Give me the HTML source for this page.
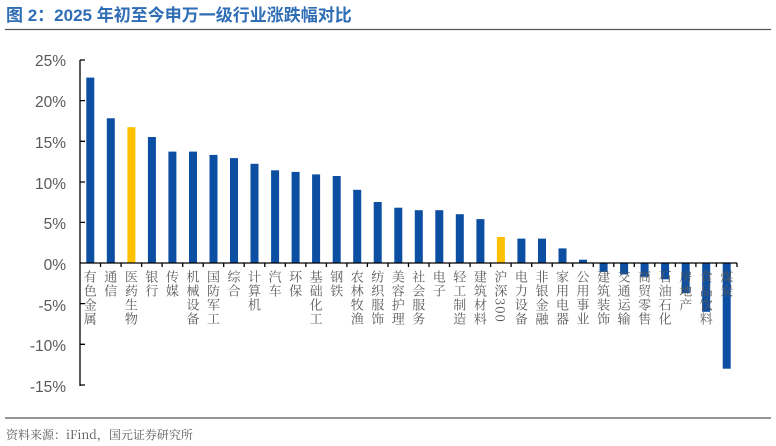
<!DOCTYPE html>
<html><head><meta charset="utf-8"><style>
body{margin:0;background:#fff;width:776px;height:446px;overflow:hidden}
svg{display:block}
.yl{font:15.5px "Liberation Sans",sans-serif;fill:#595959;text-anchor:end}
.xl{font-size:13px;font-family:"Noto Serif CJK SC","Liberation Serif",serif;fill:#595959;writing-mode:vertical-rl;letter-spacing:1px}
</style></head><body>
<svg width="776" height="446" viewBox="0 0 776 446">
<text x="6" y="21" style="font:bold 17px 'Liberation Sans','Noto Sans CJK SC',sans-serif;fill:#2f6db5">图 2：2025 年初至今申万一级行业涨跌幅对比</text>
<line x1="5" y1="29.5" x2="771" y2="29.5" stroke="#555" stroke-width="1.2"/>
<g class="yl">
<text x="66" y="66">25%</text><text x="66" y="107">20%</text><text x="66" y="148">15%</text><text x="66" y="189">10%</text><text x="66" y="229">5%</text><text x="66" y="270">0%</text><text x="66" y="311">-5%</text><text x="66" y="351">-10%</text><text x="66" y="392">-15%</text>
</g>
<g fill="#0b4ea2">
<rect x="86.3" y="77.6" width="8" height="185.4"/>
<rect x="106.8" y="118.3" width="8" height="144.7"/>
<rect x="127.4" y="127.2" width="8" height="135.8" fill="#ffc000"/>
<rect x="147.9" y="137" width="8" height="126"/>
<rect x="168.4" y="151.6" width="8" height="111.4"/>
<rect x="189" y="151.6" width="8" height="111.4"/>
<rect x="209.5" y="154.9" width="8" height="108.1"/>
<rect x="230" y="158.1" width="8" height="104.9"/>
<rect x="250.5" y="163.8" width="8" height="99.2"/>
<rect x="271.1" y="170.3" width="8" height="92.7"/>
<rect x="291.6" y="171.9" width="8" height="91.1"/>
<rect x="312.1" y="174.4" width="8" height="88.6"/>
<rect x="332.7" y="176" width="8" height="87"/>
<rect x="353.2" y="189.8" width="8" height="73.2"/>
<rect x="373.7" y="202" width="8" height="61"/>
<rect x="394.3" y="207.7" width="8" height="55.3"/>
<rect x="414.8" y="210.2" width="8" height="52.8"/>
<rect x="435.3" y="210.2" width="8" height="52.8"/>
<rect x="455.8" y="214.2" width="8" height="48.8"/>
<rect x="476.4" y="219.1" width="8" height="43.9"/>
<rect x="496.9" y="237" width="8" height="26" fill="#ffc000"/>
<rect x="517.4" y="238.6" width="8" height="24.4"/>
<rect x="538" y="238.6" width="8" height="24.4"/>
<rect x="558.5" y="248.4" width="8" height="14.6"/>
<rect x="579" y="259.7" width="8" height="3.3"/>
<rect x="599.6" y="263" width="8" height="8.9"/>
<rect x="620.1" y="263" width="8" height="11.4"/>
<rect x="640.6" y="263" width="8" height="13.8"/>
<rect x="661.1" y="263" width="8" height="16.3"/>
<rect x="681.7" y="263" width="8" height="30.1"/>
<rect x="702.2" y="263" width="8" height="48.8"/>
<rect x="722.7" y="263" width="8" height="105.7"/>
</g>
<g stroke="#000" stroke-width="1.3">
<line x1="80" y1="60" x2="80" y2="386"/>
<line x1="80" y1="263" x2="737" y2="263"/>
<path d="M80 60h5M80 100.6h5M80 141.3h5M80 182h5M80 222.4h5M80 303.6h5M80 344.3h5M80 385h5"/>
<path d="M100.5 263v4M121.1 263v4M141.6 263v4M162.1 263v4M182.7 263v4M203.2 263v4M223.7 263v4M244.2 263v4M264.8 263v4M285.3 263v4M305.8 263v4M326.4 263v4M346.9 263v4M367.4 263v4M388 263v4M408.5 263v4M429 263v4M449.5 263v4M470.1 263v4M490.6 263v4M511.1 263v4M531.7 263v4M552.2 263v4M572.7 263v4M593.3 263v4M613.8 263v4M634.3 263v4M654.8 263v4M675.4 263v4M695.9 263v4M716.4 263v4M737 263v4"/>
</g>
<g class="xl">
<text x="90.3" y="270">有色金属</text><text x="110.8" y="270">通信</text><text x="131.4" y="270">医药生物</text><text x="151.9" y="270">银行</text><text x="172.4" y="270">传媒</text><text x="193" y="270">机械设备</text><text x="213.5" y="270">国防军工</text><text x="234" y="270">综合</text><text x="254.5" y="270">计算机</text><text x="275.1" y="270">汽车</text><text x="295.6" y="270">环保</text><text x="316.1" y="270">基础化工</text><text x="336.7" y="270">钢铁</text><text x="357.2" y="270">农林牧渔</text><text x="377.7" y="270">纺织服饰</text><text x="398.3" y="270">美容护理</text><text x="418.8" y="270">社会服务</text><text x="439.3" y="270">电子</text><text x="459.8" y="270">轻工制造</text><text x="480.4" y="270">建筑材料</text><text x="500.9" y="270">沪深300</text><text x="521.4" y="270">电力设备</text><text x="542" y="270">非银金融</text><text x="562.5" y="270">家用电器</text><text x="583" y="270">公用事业</text><text x="603.6" y="270">建筑装饰</text><text x="624.1" y="270">交通运输</text><text x="644.6" y="270">商贸零售</text><text x="665.1" y="270">石油石化</text><text x="685.7" y="270">房地产</text><text x="706.2" y="270">食品饮料</text><text x="726.7" y="270">煤炭</text>
</g>
<line x1="5" y1="418" x2="771" y2="418" stroke="#555" stroke-width="1.2"/>
<text x="6" y="439" style="font-size:12px;font-family:'Noto Serif CJK SC','Liberation Sans',serif;fill:#595959">资料来源：iFind，国元证券研究所</text>
</svg>
</body></html>
